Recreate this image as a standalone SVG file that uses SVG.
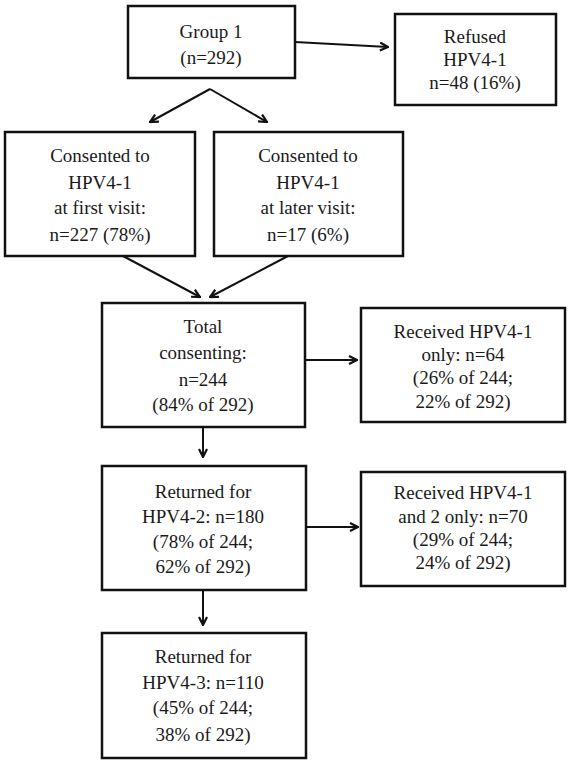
<svg xmlns="http://www.w3.org/2000/svg" width="572" height="766" viewBox="0 0 572 766">
<style>
.box{fill:#fff;stroke:#111;stroke-width:2.5}
.t{font-family:'Liberation Serif','Times New Roman',serif;font-size:19px;fill:#1a1a1a;text-anchor:middle}
.c{stroke:#111;stroke-width:2;fill:none}
</style>
<defs>
<marker id="ah" viewBox="0 0 10 10" refX="9" refY="5" markerWidth="10" markerHeight="10" markerUnits="userSpaceOnUse" orient="auto">
<path d="M1,1 L9,5 L1,9" fill="none" stroke="#111" stroke-width="2.2"/>
</marker>
</defs>
<rect width="572" height="766" fill="#fff"/>
<g id="connectors">
<line class="c" x1="295" y1="42" x2="388" y2="47" marker-end="url(#ah)"/>
<line class="c" x1="210" y1="89" x2="150" y2="122" marker-end="url(#ah)"/>
<line class="c" x1="210" y1="89" x2="267" y2="122" marker-end="url(#ah)"/>
<line class="c" x1="123" y1="256" x2="200" y2="297" marker-end="url(#ah)"/>
<line class="c" x1="288" y1="256" x2="210" y2="297" marker-end="url(#ah)"/>
<line class="c" x1="305" y1="360" x2="357" y2="360" marker-end="url(#ah)"/>
<line class="c" x1="203" y1="427" x2="203" y2="457" marker-end="url(#ah)"/>
<line class="c" x1="306" y1="527" x2="358" y2="527" marker-end="url(#ah)"/>
<line class="c" x1="203" y1="590" x2="203" y2="625" marker-end="url(#ah)"/>
</g>
<g id="group1">
<rect class="box" x="128" y="6" width="167" height="72"/>
<text class="t" x="211" y="38">Group 1</text>
<text class="t" x="211" y="64">(n=292)</text>
</g>
<g id="refused">
<rect class="box" x="395" y="14" width="161" height="91"/>
<text class="t" x="475" y="43">Refused</text>
<text class="t" x="475" y="66">HPV4-1</text>
<text class="t" x="475" y="89">n=48 (16%)</text>
</g>
<g id="first">
<rect class="box" x="5" y="132" width="190" height="124"/>
<text class="t" x="100" y="162">Consented to</text>
<text class="t" x="100" y="189">HPV4-1</text>
<text class="t" x="100" y="214">at first visit:</text>
<text class="t" x="100" y="241">n=227 (78%)</text>
</g>
<g id="later">
<rect class="box" x="214" y="132" width="189" height="124"/>
<text class="t" x="308" y="162">Consented to</text>
<text class="t" x="308" y="189">HPV4-1</text>
<text class="t" x="308" y="214">at later visit:</text>
<text class="t" x="308" y="241">n=17 (6%)</text>
</g>
<g id="total">
<rect class="box" x="102" y="303" width="203" height="124"/>
<text class="t" x="203" y="333">Total</text>
<text class="t" x="203" y="359">consenting:</text>
<text class="t" x="203" y="386">n=244</text>
<text class="t" x="203" y="411">(84% of 292)</text>
</g>
<g id="only1">
<rect class="box" x="361" y="308" width="204" height="114"/>
<text class="t" x="463" y="338">Received HPV4-1</text>
<text class="t" x="463" y="361">only: n=64</text>
<text class="t" x="463" y="384">(26% of 244;</text>
<text class="t" x="463" y="408">22% of 292)</text>
</g>
<g id="returned2">
<rect class="box" x="102" y="466" width="204" height="124"/>
<text class="t" x="203" y="498">Returned for</text>
<text class="t" x="203" y="523">HPV4-2: n=180</text>
<text class="t" x="203" y="548">(78% of 244;</text>
<text class="t" x="203" y="573">62% of 292)</text>
</g>
<g id="only12">
<rect class="box" x="361" y="472" width="204" height="114"/>
<text class="t" x="463" y="499">Received HPV4-1</text>
<text class="t" x="463" y="523">and 2 only: n=70</text>
<text class="t" x="463" y="546">(29% of 244;</text>
<text class="t" x="463" y="569">24% of 292)</text>
</g>
<g id="returned3">
<rect class="box" x="102" y="633" width="204" height="125"/>
<text class="t" x="203" y="663">Returned for</text>
<text class="t" x="203" y="689">HPV4-3: n=110</text>
<text class="t" x="203" y="714">(45% of 244;</text>
<text class="t" x="203" y="741">38% of 292)</text>
</g>
</svg>
